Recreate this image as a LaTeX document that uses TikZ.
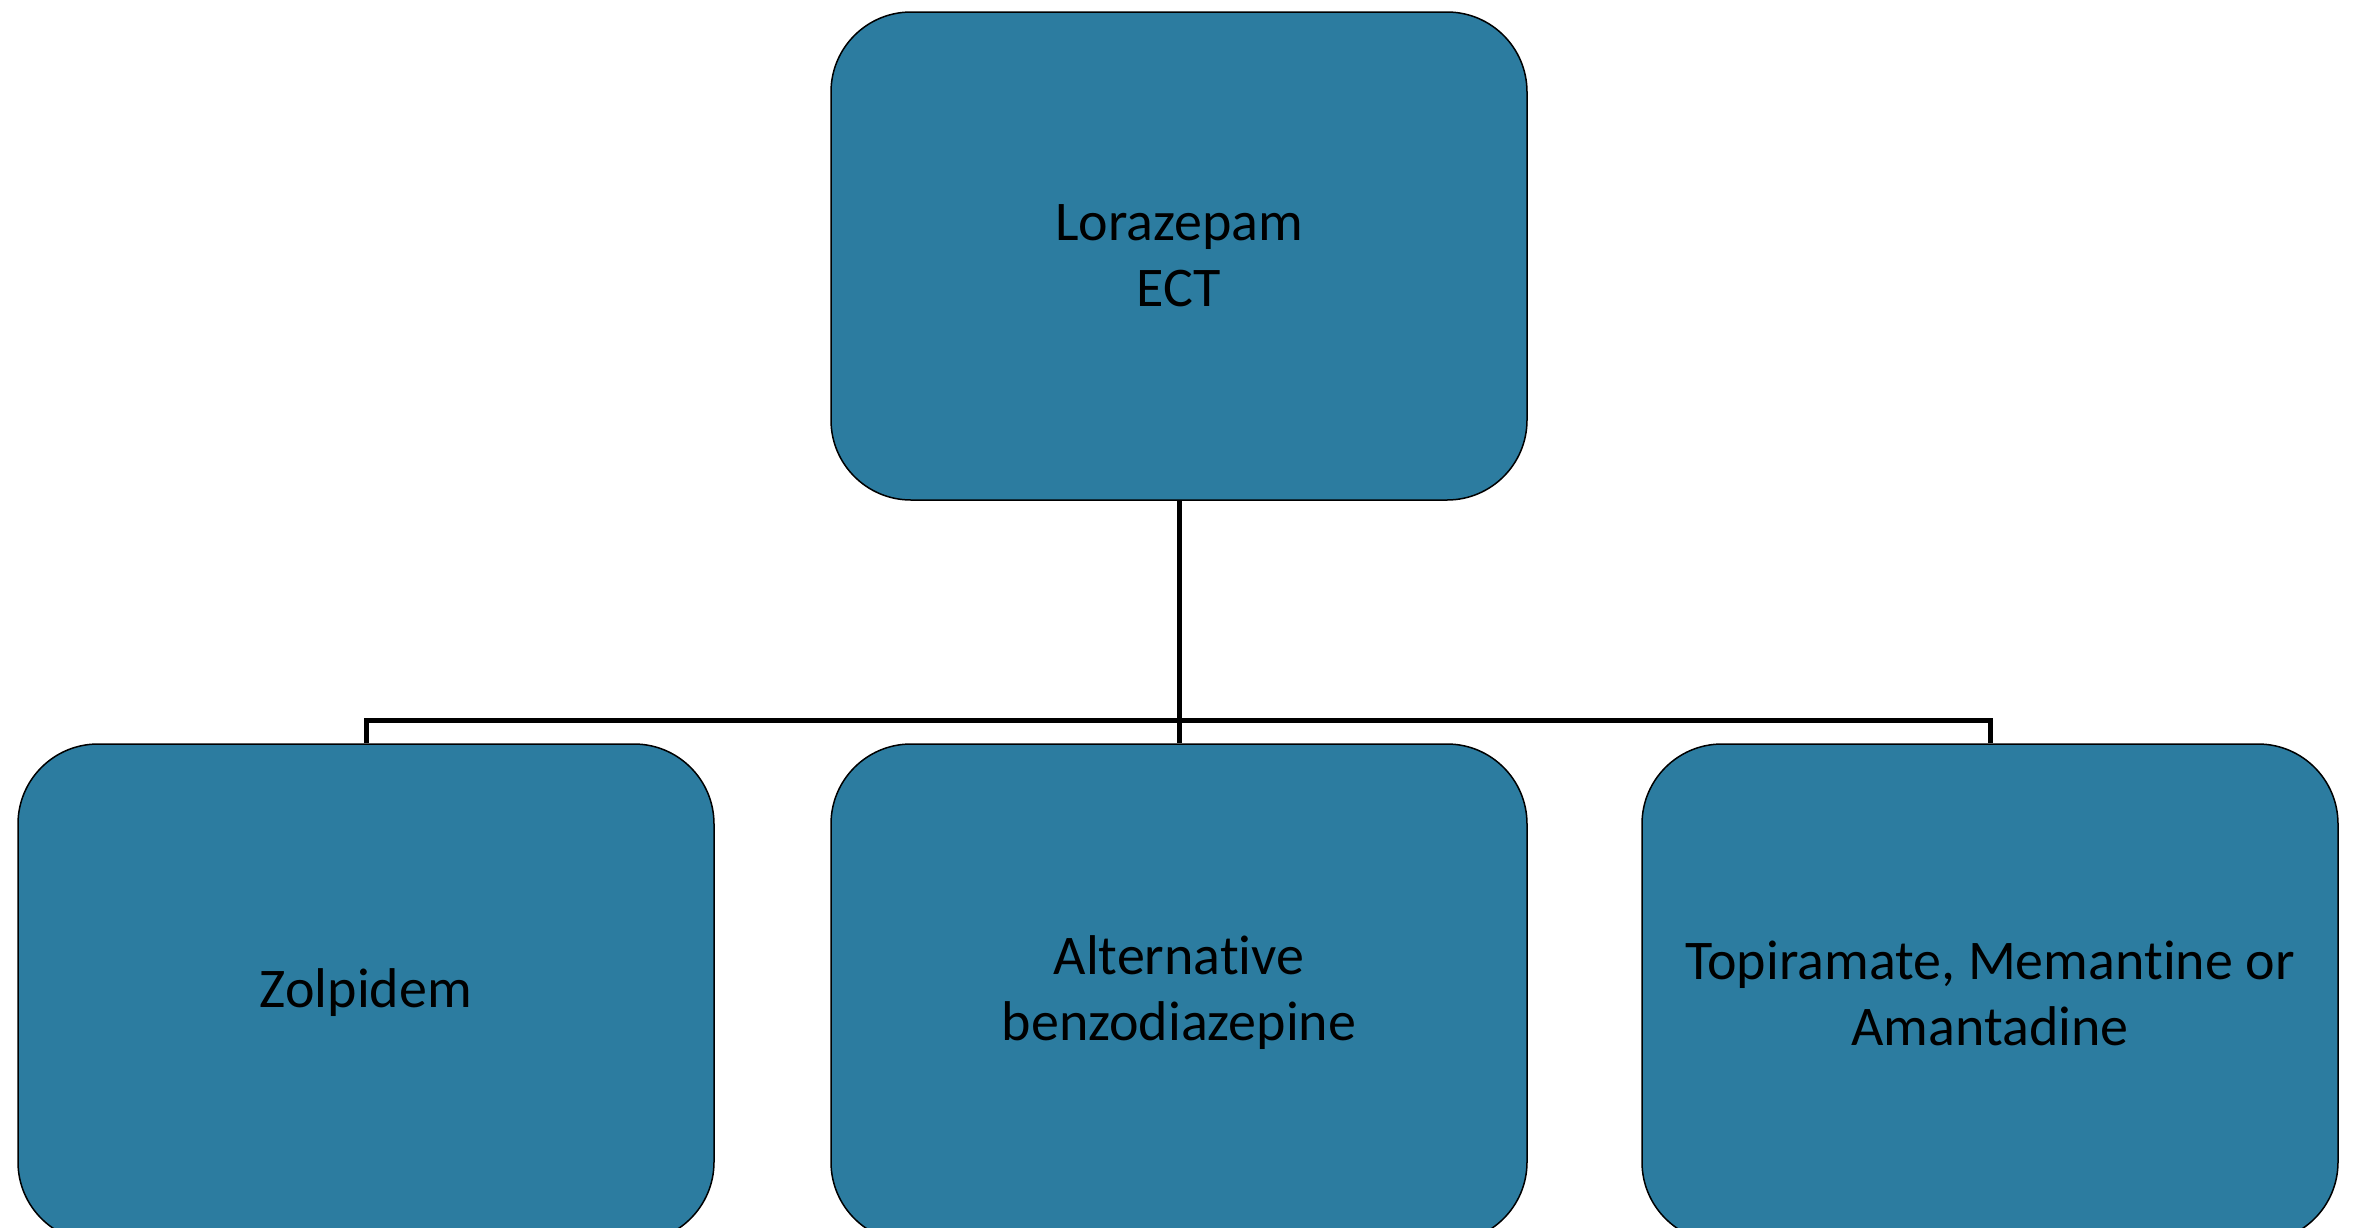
\documentclass[tikz,border=0pt]{standalone}
\usepackage{fontspec}
\setmainfont{Carlito}[RawFeature=-liga]
\definecolor{boxblue}{RGB}{44,124,160}
\begin{document}
\begin{tikzpicture}[x=0.5pt,y=-0.5pt,
  box/.style={draw=black, line width=0.75pt, fill=boxblue, rounded corners=40pt,
    minimum width=348pt, minimum height=249pt, inner sep=0pt, align=center,
    font=\fontsize{28pt}{33pt}\selectfont, text=black},
  conn/.style={draw=black, line width=2.5pt}]
\useasboundingbox (0,0) rectangle (2356,1227);
\begin{scope}
\clip (0,0) rectangle (2356,1227);
\node[box, minimum height=244pt] (top) at (1179,256) {Lorazepam\\ECT};
\node[box] (left) at (366,993) {Zolpidem};
\node[box] (mid) at (1179,993) {Alternative\\benzodiazepine};
\node[box] (right) at (1990,993) {Topiramate, Memantine or\\Amantadine};
\end{scope}
\coordinate (j) at (1179,720);
\draw[conn] (top.south) -- (mid.north);
\draw[conn] (left.north) -- (left.north |- j) -- (right.north |- j) -- (right.north);
\end{tikzpicture}
\end{document}
